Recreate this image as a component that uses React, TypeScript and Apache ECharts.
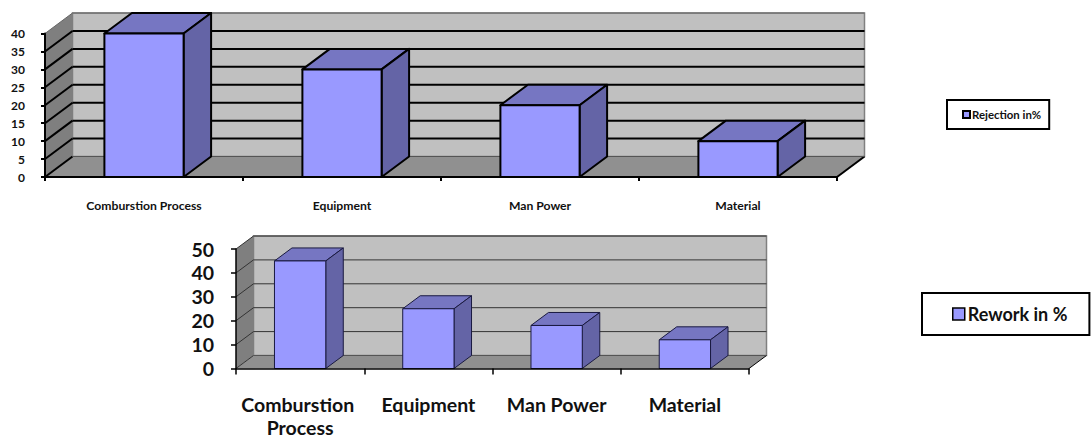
import React, { useEffect, useRef } from "react";
import * as echarts from "echarts";

const categories = ["Comburstion Process", "Equipment", "Man Power", "Material"];
const rejectionValues = [40, 30, 20, 10];
const reworkValues = [45, 25, 18, 12];
const rejectionTicks = [0, 5, 10, 15, 20, 25, 30, 35, 40];
const reworkTicks = [0, 10, 20, 30, 40, 50];
const FONT = "Lato";

const wallItem = (depth: number[], lineW: number, lineC: string, firstLine: string) => (params: any, api: any) => {
  const cs = params.coordSys;
  const [dx, dy] = depth;
  const x0 = cs.x, x1 = cs.x + cs.width, y0 = cs.y, y1 = cs.y + cs.height;
  const tick = api.value(1);
  const y = api.coord([0, tick])[1];
  const children: any[] = [];
  if (params.dataIndex === 0) {
    children.push(
      { type: "polygon", shape: { points: [[x0 + dx, y0 + dy], [x1 + dx, y0 + dy], [x1 + dx, y1 + dy], [x0 + dx, y1 + dy]] }, style: { fill: "#c0c0c0", stroke: "#808080", lineWidth: 1.5 } },
      { type: "polygon", shape: { points: [[x0, y0], [x0 + dx, y0 + dy], [x0 + dx, y1 + dy], [x0, y1]] }, style: { fill: "#7f7f7f" } },
      { type: "polygon", shape: { points: [[x0, y1], [x0 + dx, y1 + dy], [x1 + dx, y1 + dy], [x1, y1]] }, style: { fill: "#909090" } },
      { type: "line", shape: { x1, y1, x2: x1 + dx, y2: y1 + dy }, style: { stroke: "#000", lineWidth: lineW } }
    );
  }
  const top = y <= y0 + 0.5;
  children.push(
    { type: "line", shape: { x1: x0, y1: y, x2: x0 + dx, y2: y + dy }, style: { stroke: top ? firstLine : lineC, lineWidth: top ? 1 : lineW } },
    { type: "line", shape: { x1: x0 + dx, y1: y + dy, x2: x1 + dx, y2: y + dy }, style: { stroke: top ? firstLine : tick === 0 ? "#555" : lineC, lineWidth: top || tick === 0 ? 1 : lineW } }
  );
  return { type: "group", children };
};

const barItem = (depth: number[], lineW: number, lineC: string) => (_params: any, api: any) => {
  const [dx, dy] = depth;
  const top = api.coord([api.value(0), api.value(1)]);
  const base = api.coord([api.value(0), 0]);
  const w = api.size([1, 0])[0] * 0.4;
  const l = top[0] - w / 2, r = top[0] + w / 2;
  const style = (fill: string) => ({ fill, stroke: lineC, lineWidth: lineW, lineJoin: "round" });
  return {
    type: "group",
    children: [
      { type: "polygon", shape: { points: [[l, top[1]], [l + dx, top[1] + dy], [r + dx, top[1] + dy], [r, top[1]]] }, style: style("#7676c2") },
      { type: "polygon", shape: { points: [[r, top[1]], [r + dx, top[1] + dy], [r + dx, base[1] + dy], [r, base[1]]] }, style: style("#6464a6") },
      { type: "polygon", shape: { points: [[l, top[1]], [r, top[1]], [r, base[1]], [l, base[1]]] }, style: style("#9999ff") },
    ],
  };
};

export default function App() {
  const ref = useRef<HTMLDivElement>(null);
  useEffect(() => {
    document.body.style.margin = "0";
    const chart = echarts.init(ref.current!, undefined, { renderer: "svg" });
    const d1 = [27.5, -20.5];
    const d2 = [17.5, -13];
    const axisBase = (i: number, w: number, size: number, tickLen: number, margin: number) => ({
      gridIndex: i,
      z: 5,
      axisLine: { show: true, onZero: false, lineStyle: { color: "#000", width: w } },
      axisTick: { show: true, length: tickLen, lineStyle: { color: "#000", width: w } },
      axisLabel: { fontFamily: FONT, fontWeight: "bold", fontSize: size, color: "#111", margin },
      splitLine: { show: false },
    });
    const x1 = axisBase(0, 2, 12.2, 4, 22);
    const x2 = axisBase(1, 1.5, 19.5, 6, 25);
    chart.setOption({
      animation: false,
      backgroundColor: "#fff",
      grid: [
        { left: 45, top: 33.5, width: 792, height: 143.5, outerBoundsMode: "none" },
        { left: 236, top: 249, width: 513, height: 119.5, outerBoundsMode: "none" },
      ],
      xAxis: [
        { type: "category", data: categories, ...x1 },
        { type: "category", data: categories, ...x2, axisLabel: { ...x2.axisLabel, width: 125, overflow: "break", lineHeight: 22.5, interval: 0 } },
      ],
      yAxis: [
        { type: "value", min: 0, max: 40, interval: 5, ...axisBase(0, 2, 12, 4, 20) },
        { type: "value", min: 0, max: 50, interval: 10, ...axisBase(1, 1.5, 19.5, 5, 22) },
      ],
      legend: [
        {
          data: ["Rejection in%"], left: 947, top: 100, orient: "horizontal", padding: [9, 8, 9, 15],
          itemWidth: 7, itemHeight: 7, itemGap: 0, icon: "rect", borderColor: "#000", borderWidth: 2, backgroundColor: "#fff",
          textStyle: { fontFamily: FONT, fontWeight: "bold", fontSize: 11.4, color: "#111", padding: [0, 0, 0, -3] },
          itemStyle: { borderColor: "#000", borderWidth: 2 },
        },
        {
          data: ["Rework in %"], left: 922, top: 293, orient: "horizontal", padding: [12, 22, 12, 30],
          itemWidth: 12, itemHeight: 12, itemGap: 0, icon: "rect", borderColor: "#000", borderWidth: 2, backgroundColor: "#fff",
          textStyle: { fontFamily: FONT, fontWeight: "bold", fontSize: 18, color: "#111", padding: [0, 0, 0, -2] },
          itemStyle: { borderColor: "#000", borderWidth: 1.5 },
        },
      ],
      series: [
        { name: "wall1", type: "custom", xAxisIndex: 0, yAxisIndex: 0, silent: true, z: 1, renderItem: wallItem(d1, 2, "#000", "#666"), data: rejectionTicks.map((t) => [0, t]), encode: { x: 0, y: 1 } },
        { name: "wall2", type: "custom", xAxisIndex: 1, yAxisIndex: 1, silent: true, z: 1, renderItem: wallItem(d2, 1, "#333", "#333"), data: reworkTicks.map((t) => [0, t]), encode: { x: 0, y: 1 } },
        { name: "Rejection in%", type: "custom", xAxisIndex: 0, yAxisIndex: 0, z: 2, itemStyle: { color: "#9999ff" }, renderItem: barItem(d1, 2, "#000"), data: rejectionValues.map((v, i) => [i, v]), encode: { x: 0, y: 1 } },
        { name: "Rework in %", type: "custom", xAxisIndex: 1, yAxisIndex: 1, z: 2, itemStyle: { color: "#9999ff" }, renderItem: barItem(d2, 1, "#1a1a40"), data: reworkValues.map((v, i) => [i, v]), encode: { x: 0, y: 1 } },
      ],
    });
    return () => chart.dispose();
  }, []);
  return <div ref={ref} style={{ width: 1092, height: 439 }} />;
}
